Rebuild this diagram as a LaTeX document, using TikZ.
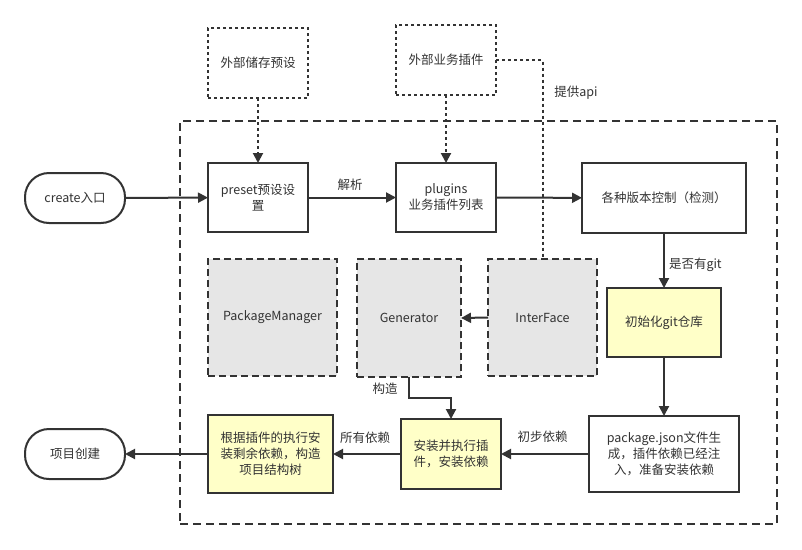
\documentclass[tikz,border=0pt]{standalone}
\usepackage{fontspec}
\setmainfont{Noto Sans CJK SC}
\usetikzlibrary{arrows.meta,calc}
\definecolor{ln}{HTML}{333333}
\definecolor{grayfill}{HTML}{E6E6E6}
\definecolor{yel}{HTML}{FFFFC8}
\begin{document}
\begin{tikzpicture}[x=1pt,y=-1pt,
  every node/.style={text=ln,font=\fontsize{12.5}{16}\selectfont,inner sep=0pt,outer sep=0pt,align=center},
  sbox/.style={draw=ln,line width=2pt,fill=white},
  ybox/.style={draw=ln,line width=2pt,fill=yel},
  gbox/.style={draw=ln,line width=2pt,fill=grayfill,dash pattern=on 7pt off 4pt},
  dbox/.style={draw=ln,line width=2pt,fill=white,dash pattern=on 3pt off 3pt},
  term/.style={draw=ln,line width=2pt,fill=white,rounded corners=24pt},
  frame/.style={draw=ln,line width=2pt,dash pattern=on 8pt off 5pt},
  conn/.style={draw=ln,line width=2pt,-{Triangle[length=10pt,width=10pt]}},
  dconn/.style={draw=ln,line width=2pt,dash pattern=on 3pt off 3pt,-{Triangle[length=10pt,width=10pt]}},
  dline/.style={draw=ln,line width=2pt,dash pattern=on 3pt off 3pt},
  lbl/.style={fill=none}
]
\useasboundingbox (0,0) rectangle (802,549);
\fill[white] (0,0) rectangle (802,549);
% frame
\node[frame,minimum width=597pt,minimum height=403pt] (frame) at (478.5,322.5) {};
% top external
\node[dbox,minimum width=100pt,minimum height=70pt] (ext1) at (258,63) {外部储存预设};
\node[dbox,minimum width=100pt,minimum height=70pt] (ext2) at (446,60) {外部业务插件};
% first row
\node[term,minimum width=100pt,minimum height=50pt] (create) at (75,198) {create入口};
\node[sbox,minimum width=100pt,minimum height=69pt] (preset) at (258,197.5) {preset预设设\\置};
\node[sbox,minimum width=100pt,minimum height=69pt] (plugins) at (446,197.5) {plugins\\业务插件列表};
\node[sbox,minimum width=164pt,minimum height=70pt] (vcs) at (664,198) {各种版本控制（检测）};
% gray row
\node[gbox,minimum width=129pt,minimum height=117pt] (pm) at (272.5,317.5) {PackageManager};
\node[gbox,minimum width=104pt,minimum height=118pt] (gen) at (409,318) {Generator};
\node[gbox,minimum width=109pt,minimum height=117pt] (iface) at (542.5,317.5) {InterFace};
\node[ybox,minimum width=114pt,minimum height=69pt] (git) at (664,322.5) {初始化git仓库};
% bottom row
\node[term,minimum width=100pt,minimum height=50pt] (proj) at (75,454) {项目创建};
\node[ybox,minimum width=125pt,minimum height=78pt] (tree) at (270.5,454) {根据插件的执行安\\装剩余依赖，构造\\项目结构树};
\node[ybox,minimum width=100pt,minimum height=70pt] (install) at (451,454) {安装并执行插\\件，安装依赖};
\node[sbox,minimum width=150pt,minimum height=76pt] (pkg) at (664,454) {package.json文件生\\成，插件依赖已经注\\入，准备安装依赖};
% connectors
\draw[dconn] (ext1) -- (preset);
\draw[dconn] (ext2) -- (plugins);
\draw[dline] (ext2.east) -| (iface.north);
\node[lbl] (apilbl) at (576,93) {提供api};
\draw[conn] (create) -- (preset);
\draw[conn] (preset) -- (plugins);
\node[lbl] (l1) at (350,185) {解析};
\draw[conn] (plugins) -- (vcs);
\draw[conn] (vcs) -- (git);
\node[lbl,anchor=west] (l2) at (669,265) {是否有git};
\draw[conn] (git) -- (pkg);
\draw[conn] (iface.west) -- (gen.east);
\draw[conn] (gen.south) -- ++(0,21) -| (install.north);
\node[lbl] (l3) at (385,389) {构造};
\draw[conn] (pkg) -- (install);
\node[lbl] (l4) at (542.5,437) {初步依赖};
\draw[conn] (install) -- (tree);
\node[lbl] (l5) at (365,438) {所有依赖};
\draw[conn] (tree) -- (proj);
\end{tikzpicture}
\end{document}
